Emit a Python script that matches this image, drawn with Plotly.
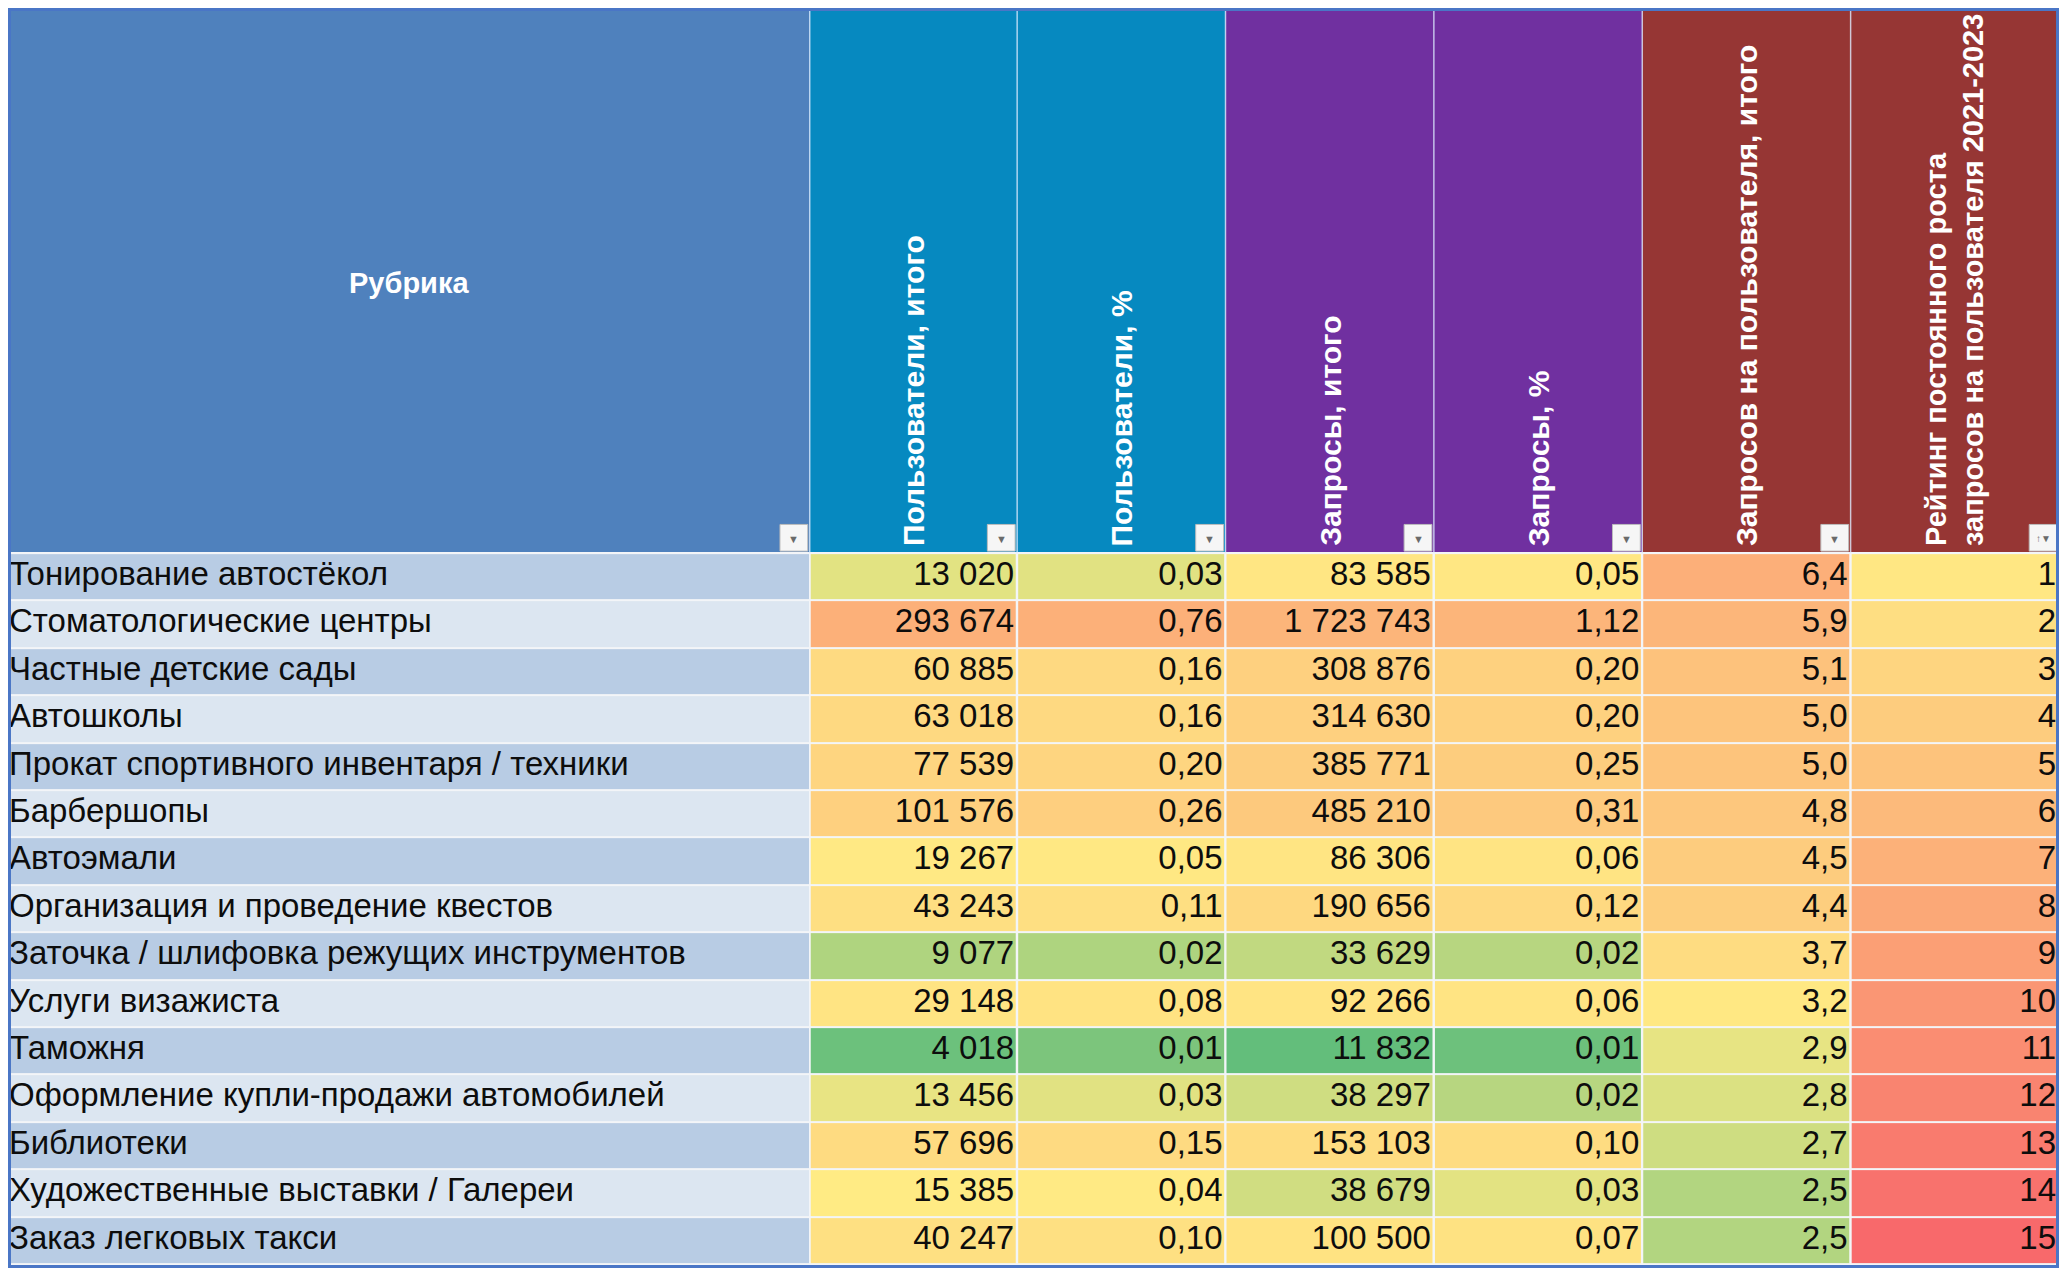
import numpy as np
import plotly.graph_objects as go

# data
rubrics = [
    "Тонирование автостёкол",
    "Стоматологические центры",
    "Частные детские сады",
    "Автошколы",
    "Прокат спортивного инвентаря / техники",
    "Барбершопы",
    "Автоэмали",
    "Организация и проведение квестов",
    "Заточка / шлифовка режущих инструментов",
    "Услуги визажиста",
    "Таможня",
    "Оформление купли-продажи автомобилей",
    "Библиотеки",
    "Художественные выставки / Галереи",
    "Заказ легковых такси",
]
users_total = [13020, 293674, 60885, 63018, 77539, 101576, 19267, 43243, 9077, 29148, 4018, 13456, 57696, 15385, 40247]
users_pct = [0.03, 0.76, 0.16, 0.16, 0.20, 0.26, 0.05, 0.11, 0.02, 0.08, 0.01, 0.03, 0.15, 0.04, 0.10]
requests_total = [83585, 1723743, 308876, 314630, 385771, 485210, 86306, 190656, 33629, 92266, 11832, 38297, 153103, 38679, 100500]
requests_pct = [0.05, 1.12, 0.20, 0.20, 0.25, 0.31, 0.06, 0.12, 0.02, 0.06, 0.01, 0.02, 0.10, 0.03, 0.07]
req_per_user = [6.4, 5.9, 5.1, 5.0, 5.0, 4.8, 4.5, 4.4, 3.7, 3.2, 2.9, 2.8, 2.7, 2.5, 2.5]
growth_rank = [1, 2, 3, 4, 5, 6, 7, 8, 9, 10, 11, 12, 13, 14, 15]

header_rubric = "Рубрика"
headers = [
    "Пользователи, итого",
    "Пользователи, %",
    "Запросы, итого",
    "Запросы, %",
    "Запросов на пользователя, итого",
    "Рейтинг постоянного роста<br>запросов на пользователя 2021-2023",
]

#%% layout constants (reference pixel units)
W, H = 2067, 1276
EDGES = [0, 808, 1017, 1227, 1437, 1647, 1857, 2067]
HEAD_BOTTOM = 552
ROW_H = 48.0
n = len(rubrics)
row_edges = [HEAD_BOTTOM + ROW_H * k for k in range(n + 1)]
row_mid = [HEAD_BOTTOM + ROW_H * (k + 0.5) for k in range(n)]

HEAD_COLORS = ["#4F81BD", "#0689C0", "#0689C0", "#7030A0", "#7030A0", "#963634", "#963634"]
RYG = [[0, "#63BE7B"], [0.5, "#FFEB84"], [1, "#F8696B"]]
DATA_FONT = "Liberation Sans, Arial, sans-serif"
HEAD_FONT = "Liberation Sans, Arial, sans-serif"
TRANSFORMS = {"lin": lambda a: a, "log": np.log10, "sqrt": np.sqrt}


def scale_pos(values, lo, mid, hi, lower="lin", upper="lin"):
    # 3-colour scale position (0 green, .5 yellow, 1 red), like the Excel rule
    v = np.array(values, dtype=float)
    fl, fu = TRANSFORMS[lower], TRANSFORMS[upper]
    t_lo = 0.5 * (fl(v) - fl(lo)) / (fl(mid) - fl(lo))
    t_hi = 0.5 + 0.5 * (fu(v) - fu(mid)) / (fu(hi) - fu(mid))
    return np.clip(np.where(v < mid, t_lo, t_hi), 0, 1)


def fmt_int(v):
    return f"{v:,}".replace(",", " ")


def fmt_dec(v, d):
    return f"{v:.{d}f}".replace(".", ",")


columns = [
    (users_total, scale_pos(users_total, 3300, 15200, 1.11e6, "lin", "sqrt"), [fmt_int(v) for v in users_total]),
    (users_pct, scale_pos(users_pct, 0.005, 0.036, 2.9, "lin", "sqrt"), [fmt_dec(v, 2) for v in users_pct]),
    (requests_total, scale_pos(requests_total, 14000, 60000, 1.85e8, "log", "log"), [fmt_int(v) for v in requests_total]),
    (requests_pct, scale_pos(requests_pct, 0.0091, 0.039, 120, "log", "log"), [fmt_dec(v, 2) for v in requests_pct]),
    (req_per_user, scale_pos(req_per_user, 2.0, 3.1, 15.0, "log", "log"), [fmt_dec(v, 1) for v in req_per_user]),
    (growth_rank, scale_pos(growth_rank, -10, 0.6, 15), [str(v) for v in growth_rank]),
]

fig = go.Figure()

# rubric column, banded rows
fig.add_trace(go.Heatmap(
    x=EDGES[0:2], y=row_edges, z=[[k % 2] for k in range(n)],
    colorscale=[[0, "#B8CCE4"], [1, "#DCE6F1"]], zmin=0, zmax=1,
    showscale=False, ygap=2, xgap=2, hoverinfo="skip",
))
fig.add_trace(go.Scatter(
    x=[1] * n, y=row_mid, text=rubrics, mode="text", textposition="middle right",
    textfont=dict(family=DATA_FONT, size=33, color="#0D0D0D"), hoverinfo="skip",
))

# value columns
for j, (vals, pos, labels) in enumerate(columns):
    left, right = EDGES[j + 1], EDGES[j + 2]
    fig.add_trace(go.Heatmap(
        x=[left, right], y=row_edges, z=[[p] for p in pos],
        colorscale=RYG, zmin=0, zmax=1, showscale=False,
        ygap=2, xgap=2, customdata=[[v] for v in vals],
        hovertemplate="%{customdata[0]}<extra></extra>",
    ))
    fig.add_trace(go.Scatter(
        x=[right - 3] * n, y=row_mid, text=labels, mode="text", textposition="middle left",
        textfont=dict(family=DATA_FONT, size=33, color="#0D0D0D"), hoverinfo="skip",
    ))

# header cells
for j in range(len(EDGES) - 1):
    fig.add_shape(type="rect", x0=EDGES[j], x1=EDGES[j + 1], y0=0, y1=HEAD_BOTTOM - 1,
                  fillcolor=HEAD_COLORS[j], line_width=0, layer="below")
    if j > 0:
        fig.add_shape(type="line", x0=EDGES[j], x1=EDGES[j], y0=0, y1=HEAD_BOTTOM,
                      line=dict(color="rgba(220,235,255,0.75)", width=1.5))
    # filter button
    r = EDGES[j + 1] - 2
    last = j == len(EDGES) - 2
    fig.add_shape(type="rect", x0=r - 28, x1=r, y0=HEAD_BOTTOM - 29, y1=HEAD_BOTTOM - 2,
                  fillcolor="#F6F6F6", line=dict(color="#BDBDBD", width=1))
    fig.add_annotation(x=r - 14, y=HEAD_BOTTOM - 15, text="↑▼" if last else "▼",
                       showarrow=False, font=dict(size=10 if last else 11, color="#6A6A6A"))

fig.add_annotation(x=(EDGES[0] + EDGES[1]) / 2, y=278, text="<b>%s</b>" % header_rubric,
                   showarrow=False, font=dict(family=HEAD_FONT, size=29, color="white"))
for j, h in enumerate(headers):
    last = j == len(headers) - 1
    fig.add_annotation(x=(EDGES[j + 1] + EDGES[j + 2]) / 2, y=HEAD_BOTTOM - 5,
                       text="<b>%s</b>" % h, textangle=-90, align="left",
                       xanchor="center", yanchor="bottom", showarrow=False,
                       font=dict(family=HEAD_FONT, size=29 if last else 30, color="white"))

# outer frame
fig.add_shape(type="rect", x0=1, x1=W - 1, y0=1, y1=H - 1, line=dict(color="#4A76C6", width=4))

fig.update_layout(
    width=2051, height=1260,
    margin=dict(l=0, r=0, t=0, b=0),
    showlegend=False,
    plot_bgcolor="#F3F5F8",
    paper_bgcolor="#F3F5F8",
    xaxis=dict(range=[0, W], visible=False, fixedrange=True),
    yaxis=dict(range=[H, 0], visible=False, fixedrange=True),
)

fig.write_html("out.html")
